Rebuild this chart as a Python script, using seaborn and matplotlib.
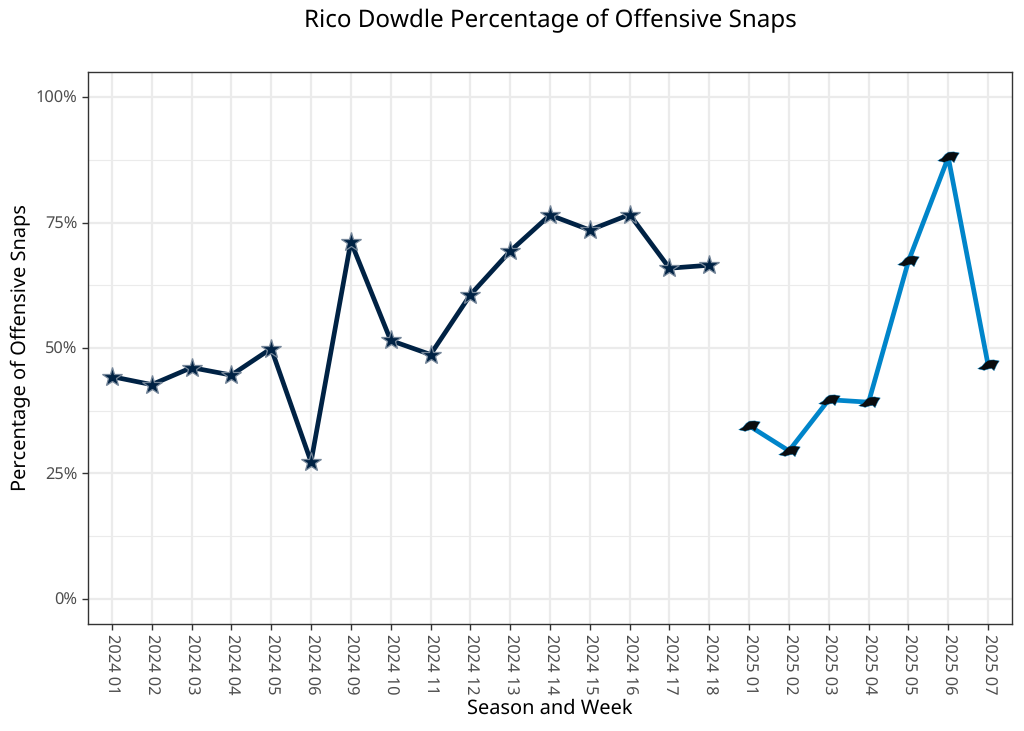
import numpy as np
import pandas as pd
import seaborn as sns
import matplotlib
matplotlib.use("Agg")
import matplotlib.pyplot as plt
from matplotlib.path import Path
from matplotlib.ticker import MultipleLocator, FuncFormatter

weeks_dal = ["2024 01","2024 02","2024 03","2024 04","2024 05","2024 06","2024 09","2024 10",
             "2024 11","2024 12","2024 13","2024 14","2024 15","2024 16","2024 17","2024 18"]
snaps_dal = [44.3,42.7,46.1,44.6,49.9,27.3,71.2,51.5,48.7,60.6,69.3,76.5,73.5,76.6,65.9,66.5]
weeks_car = ["2025 01","2025 02","2025 03","2025 04","2025 05","2025 06","2025 07"]
snaps_car = [34.5,29.5,39.7,39.2,67.3,88.0,46.6]

COL_DAL = "#002244"
COL_CAR = "#0085CA"

sns.set_theme(style="white")
plt.rcParams["font.family"] = ["Noto Sans", "DejaVu Sans"]
plt.rcParams["text.hinting"] = "no_hinting"
plt.rcParams["text.hinting_factor"] = 1

df_dal = pd.DataFrame({"week": weeks_dal, "snaps": snaps_dal})
df_car = pd.DataFrame({"week": weeks_car, "snaps": snaps_car})

# Small panther-head silhouette standing in for the team logo
panther = Path([(-1.0,-0.3),(-0.6,-0.05),(-0.3,0.3),(0.0,0.5),(0.5,0.52),(1.0,0.42),
                (0.8,0.12),(0.7,-0.08),(0.52,-0.48),(0.3,-0.28),(0.0,-0.32),(-0.4,-0.45),(-1.0,-0.3)],
               closed=True)

fig = plt.figure(figsize=(10.24, 7.31), dpi=100)
ax = fig.add_axes([88/1024, 1-624/731, (1012-88)/1024, (624-72)/731])

sns.lineplot(data=df_dal, x="week", y="snaps", color=COL_DAL, lw=3.4, ax=ax, marker="*",
             markersize=15, markerfacecolor=COL_DAL, markeredgecolor="#76879a",
             markeredgewidth=0.9, zorder=3)
sns.lineplot(data=df_car, x="week", y="snaps", color=COL_CAR, lw=3.4, ax=ax, marker=panther,
             markersize=15.5, markerfacecolor="#0a0d10", markeredgecolor="#0085CA",
             markeredgewidth=0.3, zorder=3)

ax.set_xlim(-0.6, 22.6)
ax.set_ylim(-5, 105)
ax.yaxis.set_major_locator(MultipleLocator(25))
ax.yaxis.set_minor_locator(MultipleLocator(12.5))
ax.yaxis.set_major_formatter(FuncFormatter(lambda v, _: f"{v:.0f}%"))

ax.set_axisbelow(True)
ax.grid(True, which="major", color="#ebebeb", lw=1.6)
ax.grid(True, which="minor", axis="y", color="#ebebeb", lw=0.8)
for s in ax.spines.values():
    s.set_visible(True)
    s.set_color("#333333")
    s.set_linewidth(1.0)

ax.tick_params(axis="both", which="major", length=4, width=1.0, color="#333333",
               labelcolor="#4d4d4d", labelsize=11.8, left=True, bottom=True)
ax.tick_params(axis="y", which="minor", length=0)
ax.tick_params(axis="x", pad=3)
plt.setp(ax.get_xticklabels(), rotation=-90, ha="center", va="top")

ax.set_xlabel("Season and Week", fontsize=14.4, color="black")
ax.xaxis.set_label_coords(0.5, -(709-624)/552, transform=ax.transAxes)
ax.xaxis.label.set_va("center")
ax.set_ylabel("Percentage of Offensive Snaps", fontsize=14.4, color="black")
ax.yaxis.set_label_coords(-(88-21)/924, 0.5, transform=ax.transAxes)
ax.yaxis.label.set_va("center")
fig.text(550/1024, 1-21/731, "Rico Dowdle Percentage of Offensive Snaps", fontsize=17.4,
         color="black", ha="center", va="center")

fig.savefig("out.png", dpi=100)
